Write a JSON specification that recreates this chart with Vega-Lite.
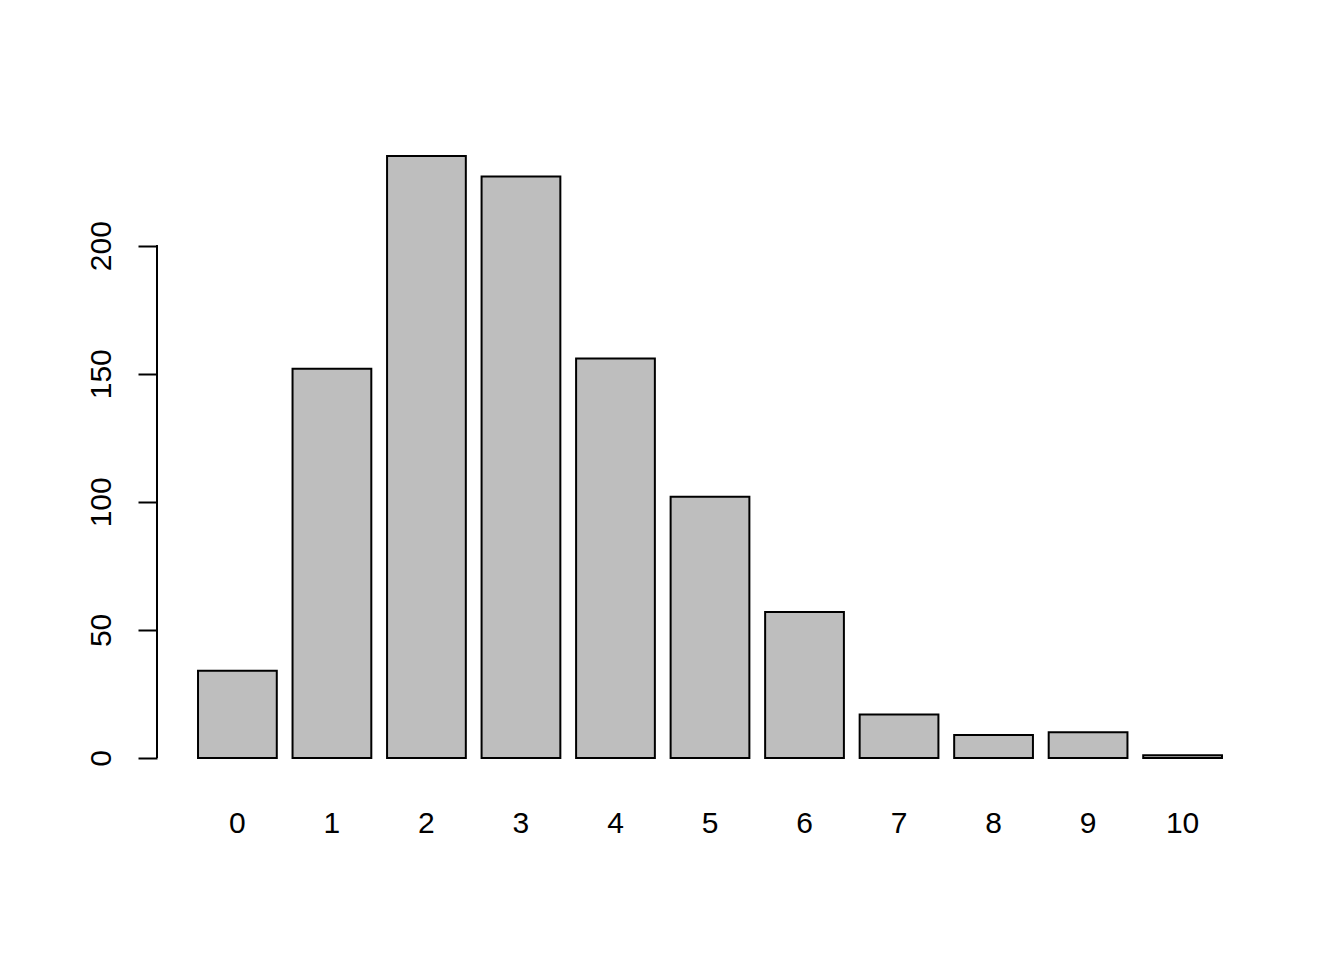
{
  "$schema": "https://vega.github.io/schema/vega-lite/v6.json",
  "width": 1106,
  "height": 650,
  "autosize": {"type": "none"},
  "padding": {"left": 157, "top": 132, "right": 81, "bottom": 178},
  "background": "white",
  "config": {
    "view": {"stroke": null},
    "font": "Liberation Sans",
    "axis": {"labelFont": "Liberation Sans", "labelColor": "black", "labelFontSize": 30, "grid": false}
  },
  "data": {
    "values": [
      {"k": 0, "n": 34},
      {"k": 1, "n": 152},
      {"k": 2, "n": 235},
      {"k": 3, "n": 227},
      {"k": 4, "n": 156},
      {"k": 5, "n": 102},
      {"k": 6, "n": 57},
      {"k": 7, "n": 17},
      {"k": 8, "n": 9},
      {"k": 9, "n": 10},
      {"k": 10, "n": 1}
    ]
  },
  "layer": [
    {
      "mark": {"type": "bar", "fill": "#bebebe", "stroke": "black", "strokeWidth": 2, "cornerRadius": 0},
      "encoding": {
        "x": {
          "field": "k",
          "type": "ordinal",
          "scale": {"paddingInner": 0.16667, "paddingOuter": 0.434},
          "axis": {"title": null, "domain": false, "ticks": false, "labelAngle": 0, "labelPadding": 26, "labelBaseline": "top"}
        },
        "y": {
          "field": "n",
          "type": "quantitative",
          "scale": {"domain": [-9.4, 244.4], "nice": false, "zero": false},
          "axis": {
            "title": null,
            "domain": false,
            "values": [0, 50, 100, 150, 200],
            "tickSize": 19,
            "tickWidth": 2,
            "tickColor": "black",
            "labelAngle": -90,
            "labelAlign": "center",
            "labelBaseline": "alphabetic",
            "labelPadding": 28
          }
        },
        "y2": {"datum": 0}
      }
    },
    {
      "mark": {"type": "rule", "stroke": "black", "strokeWidth": 2},
      "encoding": {
        "x": {"value": 0},
        "y": {"datum": 0},
        "y2": {"datum": 200}
      }
    }
  ]
}
